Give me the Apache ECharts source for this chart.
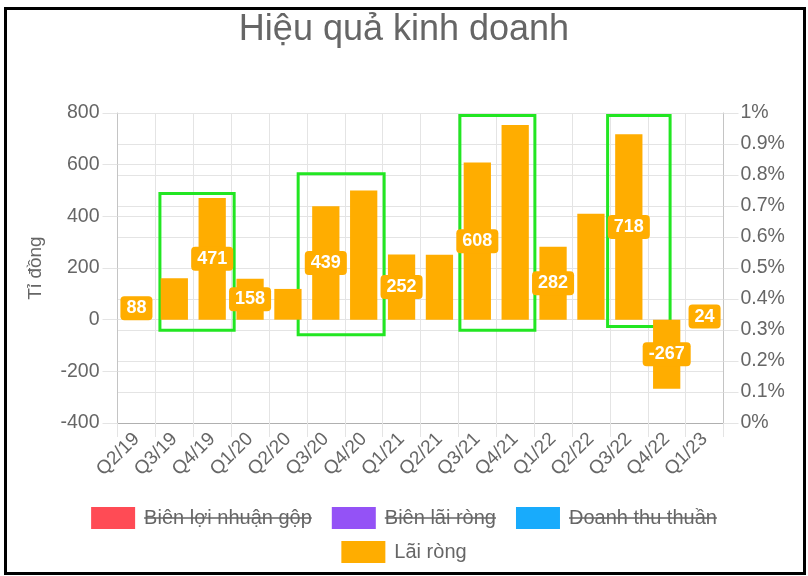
<!DOCTYPE html>
<html><head><meta charset="utf-8">
<script src="https://cdn.jsdelivr.net/npm/echarts@6/dist/echarts.min.js"></script>
<style>
html,body{margin:0;padding:0;background:#fff}
#c{width:808px;height:576px;position:absolute;left:0;top:0}
#frame{position:absolute;left:4px;top:7px;width:796px;height:562px;border:3px solid #000;pointer-events:none}
</style>
</head><body><div id="c"></div><div id="frame"></div>
<script>
// ---- data ----
const categories = ['Q2/19','Q3/19','Q4/19','Q1/20','Q2/20','Q3/20','Q4/20','Q1/21','Q2/21','Q3/21','Q4/21','Q1/22','Q2/22','Q3/22','Q4/22','Q1/23'];
const netProfit = [88, 160, 471, 158, 119, 439, 500, 252, 251, 608, 754, 282, 410, 718, -267, 24];
const labelShown = [true,false,true,true,false,true,false,true,false,true,false,true,false,true,true,true];
const grossMargin = [];   // hidden series
const netMargin = [];     // hidden series
const revenue = [];       // hidden series
const seriesNames = ['Biên lợi nhuận gộp','Biên lãi ròng','Doanh thu thuần','Lãi ròng'];
const leftTicks = [-400, 800, 200];
const rightTicks = [0, 1, 0.1];
// highlight boxes: [start band, end band, top value, bottom value]
const boxStart = [1.12, 4.77, 9.04, 12.94];
const boxEnd = [3.08, 7.04, 11.02, 14.59];
const boxTop = [488, 565, 790, 790];
const boxBottom = [-41, -58, -41, -26];

// ---- chart ----
const FONT = '"Liberation Sans", Arial, sans-serif';
const GRAY = '#666';
const GRID = '#e4e4e4';
const ORANGE = '#ffad00';
const colors = ['#ff4b55', '#9452f6', '#18abfc', ORANGE];

const chart = echarts.init(document.getElementById('c'), null, {renderer: 'canvas'});

const boxes = boxStart.map((s, i) => [
  {xAxis: s, yAxis: boxTop[i]},
  {xAxis: boxEnd[i], yAxis: boxBottom[i]}
]);

const legendFont = 20;
const TEXT_PAD = 4;
const ITEM_W = 44, ITEM_GAP = 20;
const legendCommon = {
  left: 'center', padding: 0, icon: 'rect', itemWidth: ITEM_W, itemHeight: 22, itemGap: ITEM_GAP,
  selectedMode: false,
  textStyle: {color: GRAY, fontSize: legendFont, fontFamily: FONT, padding: [0, 0, 0, TEXT_PAD]}
};

const option = {
  animation: false,
  textStyle: {fontFamily: FONT},
  title: {
    text: 'Hiệu quả kinh doanh', left: 'center', top: 7,
    textStyle: {fontSize: 36, fontWeight: 'normal', color: GRAY, fontFamily: FONT}
  },
  legend: [
    Object.assign({data: seriesNames.slice(0, 3), top: 507}, legendCommon),
    Object.assign({data: seriesNames.slice(3), top: 541}, legendCommon)
  ],
  grid: {left: 117.5, top: 113, width: 606, height: 310, containLabel: false},
  xAxis: [{
    type: 'category', data: categories, boundaryGap: true,
    axisLine: {onZero: false, lineStyle: {color: '#b0b0b0'}},
    axisTick: {show: true, interval: 0, length: 14, lineStyle: {color: GRID}},
    splitLine: {show: true, interval: 0, lineStyle: {color: GRID}},
    axisLabel: {interval: 0, rotate: 45, margin: 13, color: GRAY, fontSize: 19, fontFamily: FONT}
  }, {
    type: 'value', min: 0, max: categories.length, show: false
  }],
  yAxis: [{
    type: 'value', min: leftTicks[0], max: leftTicks[1], interval: leftTicks[2],
    name: 'Tỉ đồng', nameLocation: 'middle', nameGap: 72,
    nameTextStyle: {color: GRAY, fontSize: 19, fontFamily: FONT},
    axisLine: {show: true, lineStyle: {color: '#c4c4c4'}},
    axisTick: {show: true, length: 15, lineStyle: {color: GRID}},
    splitLine: {show: true, lineStyle: {color: GRID}},
    axisLabel: {margin: 18, color: GRAY, fontSize: 19.5, fontFamily: FONT}
  }, {
    type: 'value', position: 'right', min: rightTicks[0], max: rightTicks[1], interval: rightTicks[2],
    axisLine: {show: true, lineStyle: {color: '#c4c4c4'}},
    axisTick: {show: true, length: 15, lineStyle: {color: GRID}},
    splitLine: {show: true, lineStyle: {color: GRID}},
    axisLabel: {margin: 17, color: GRAY, fontSize: 19.5, fontFamily: FONT,
      formatter: v => (+v.toFixed(2)) + '%'}
  }],
  series: [
    {name: seriesNames[0], type: 'line', yAxisIndex: 1, data: grossMargin, color: colors[0], showSymbol: false},
    {name: seriesNames[1], type: 'line', yAxisIndex: 1, data: netMargin, color: colors[1], showSymbol: false},
    {name: seriesNames[2], type: 'line', yAxisIndex: 0, data: revenue, color: colors[2], showSymbol: false},
    {
      name: seriesNames[3], type: 'bar', yAxisIndex: 0, color: ORANGE,
      barCategoryGap: '28%',
      data: netProfit.map((v, i) => ({value: v, label: {show: labelShown[i]}})),
      label: {
        show: true, position: 'inside', color: '#fff', fontWeight: 'bold', fontSize: 18,
        fontFamily: FONT, backgroundColor: ORANGE, borderRadius: 4, padding: [3, 6],
        textBorderWidth: 0
      }
    },
    {
      name: 'boxes', type: 'line', xAxisIndex: 1, yAxisIndex: 0, data: [], silent: true,
      markArea: {
        silent: true,
        itemStyle: {color: 'rgba(0,0,0,0)', borderColor: '#22e622', borderWidth: 3},
        data: boxes
      }
    }
  ]
};
chart.setOption(option);

// strike-through for hidden (legend) series, like Chart.js
(function () {
  const ctx = document.createElement('canvas').getContext('2d');
  ctx.font = legendFont + 'px ' + FONT;
  const names = seriesNames.slice(0, 3);
  const widths = names.map(n => ctx.measureText(n).width + TEXT_PAD);
  const total = widths.reduce((a, w) => a + ITEM_W + 5 + w, 0) + ITEM_GAP * (names.length - 1);
  let x = (808 - total) / 2;
  const y = 507 + 11;
  const els = [];
  widths.forEach(w => {
    const tx = x + ITEM_W + 5 + TEXT_PAD;
    els.push({type: 'line', silent: true, shape: {x1: tx, y1: y, x2: tx + w - TEXT_PAD, y2: y},
      style: {stroke: GRAY, lineWidth: 1.5}});
    x += ITEM_W + 5 + w + ITEM_GAP;
  });
  chart.setOption({graphic: els});
})();
</script>
</body></html>
